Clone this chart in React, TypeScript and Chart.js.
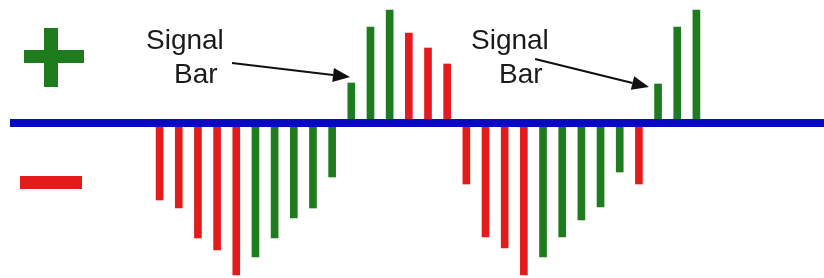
import React, { useEffect, useRef } from "react";
import { Chart, registerables } from "chart.js";

Chart.register(...registerables);

// Awesome-oscillator style histogram values
const barLabels = [
  "1", "2", "3", "4", "5", "6", "7", "8", "9", "10",
  "11", "12", "13", "14", "15", "16", "17", "18", "19", "20",
  "21", "22", "23", "24", "25", "26", "27", "28", "29",
];
const aoValues = [
  -77, -85, -115, -127, -152, -134, -115, -95, -85, -54,
  40, 96, 113, 90, 75, 59, -61, -114, -125, -152,
  -134, -114, -97, -84, -49, -61, 39, 96, 113,
];
const annotationTexts = [
  ["Signal", "Bar"],
  ["Signal", "Bar"],
];

const GREEN = "#1e7b1e";
const RED = "#e41b1b";
const BLUE = "#0808c8";
const FONT = "28px 'Liberation Sans', Arial, sans-serif";

const decorPlugin = {
  id: "decor",
  afterDatasetsDraw(chart: any) {
    const ctx = chart.ctx;
    const y0 = chart.scales.y.getPixelForValue(0);
    ctx.save();
    // zero line
    ctx.fillStyle = BLUE;
    ctx.fillRect(10, y0 - 4, chart.width - 10, 8);
    // plus sign
    ctx.fillStyle = GREEN;
    ctx.fillRect(44, 28, 14, 59);
    ctx.fillRect(24, 50, 60, 13);
    // minus sign
    ctx.fillStyle = RED;
    ctx.fillRect(20, 176, 62, 13);
    // annotations
    ctx.fillStyle = "#1a1a1a";
    ctx.font = FONT;
    ctx.textBaseline = "alphabetic";
    ctx.textAlign = "left";
    const anns = [
      { tx: 146, bx: 174, from: [232, 63], to: [350, 77] },
      { tx: 471, bx: 499, from: [535, 59], to: [649, 87] },
    ];
    anns.forEach((a, i) => {
      ctx.fillStyle = "#1a1a1a";
      ctx.fillText(annotationTexts[i][0], a.tx, 49);
      ctx.fillText(annotationTexts[i][1], a.bx, 83);
      const [x1, y1] = a.from;
      const [x2, y2] = a.to;
      const ang = Math.atan2(y2 - y1, x2 - x1);
      const hl = 17;
      const hw = 7;
      const bxp = x2 - hl * Math.cos(ang);
      const byp = y2 - hl * Math.sin(ang);
      ctx.strokeStyle = "#111";
      ctx.lineWidth = 2;
      ctx.beginPath();
      ctx.moveTo(x1, y1);
      ctx.lineTo(bxp, byp);
      ctx.stroke();
      ctx.fillStyle = "#111";
      ctx.beginPath();
      ctx.moveTo(x2, y2);
      ctx.lineTo(bxp + hw * Math.sin(ang), byp - hw * Math.cos(ang));
      ctx.lineTo(bxp - hw * Math.sin(ang), byp + hw * Math.cos(ang));
      ctx.closePath();
      ctx.fill();
    });
    ctx.restore();
  },
};

export default function App() {
  const ref = useRef<HTMLCanvasElement | null>(null);
  useEffect(() => {
    if (!ref.current) return;
    const colors = aoValues.map((v, i) => (i > 0 && v > aoValues[i - 1] ? GREEN : RED));
    const chart = new Chart(ref.current, {
      type: "bar",
      data: {
        labels: barLabels,
        datasets: [
          {
            data: aoValues,
            backgroundColor: colors,
            borderWidth: 0,
            barThickness: 7,
          },
        ],
      },
      options: {
        responsive: true,
        maintainAspectRatio: false,
        animation: false,
        layout: { padding: { left: 150, right: 118, top: 0, bottom: 0 } },
        plugins: { legend: { display: false }, tooltip: { enabled: false } },
        scales: {
          x: { display: false, offset: true },
          y: { display: false, min: -155, max: 123 },
        },
      },
      plugins: [decorPlugin],
    });
    return () => chart.destroy();
  }, []);
  return (
    <div style={{ position: "absolute", left: 0, top: 0, width: 824, height: 278, background: "#fff" }}>
      <canvas ref={ref} />
    </div>
  );
}
